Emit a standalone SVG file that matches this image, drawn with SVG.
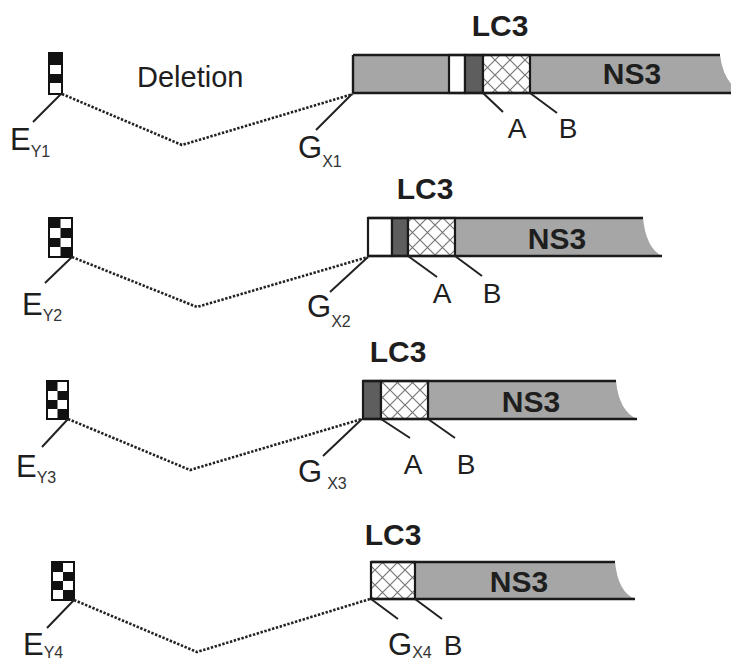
<svg xmlns="http://www.w3.org/2000/svg" width="731" height="662" viewBox="0 0 731 662">
<style>
.t{font-family:"Liberation Sans",Arial,sans-serif;fill:#1e1e1e}
.lab{font-size:31px}
.sub{font-size:16px;fill:#333}
.ab{font-size:28px}
.bold{font-weight:bold;font-size:30px}
.dot{fill:none;stroke:#222;stroke-width:2.6;stroke-dasharray:2.4 1.6}
.ln{stroke:#222;stroke-width:2;fill:none}
.edge{stroke:#1a1a1a;stroke-width:2.4;fill:none}
.seg{stroke:#1a1a1a;stroke-width:2.2}
.gray{fill:#a6a6a6}
.dark{fill:#5e5e5e}
.white{fill:#fff}
.hatch{fill:url(#xh)}
.blk{fill:#111}
</style>
<defs>
<pattern id="xh" patternUnits="userSpaceOnUse" width="15" height="15">
<rect width="15" height="15" fill="#fff"/>
<path d="M0,0 L15,15 M15,0 L0,15" stroke="#777" stroke-width="1.2"/>
</pattern>
</defs>

<!-- Row 1 -->
<g id="row1-exon">
<rect x="49" y="53" width="13" height="41" class="white" stroke="#111" stroke-width="2"/>
<rect x="49" y="53" width="13" height="12" class="blk"/>
<rect x="49" y="74" width="13" height="9" class="blk"/>
<text class="t lab" x="10" y="150">E<tspan class="sub" dy="7">Y1</tspan></text>
</g>
<text id="deletion" class="t" x="137" y="87" font-size="29">Deletion</text>
<g id="row1-bar">
<path class="gray" d="M353,55 L720,55 Q724,86 745,93 L353,93 Z"/>
<rect x="449" y="55" width="16" height="38" class="white seg"/>
<rect x="465" y="55" width="18" height="38" class="dark seg"/>
<rect x="483" y="55" width="47" height="38" class="hatch seg"/>
<path class="edge" d="M353,55 L720,55 M353,93 L731,93 M353,55 L353,93"/>
<text class="t bold" x="500" y="36" text-anchor="middle">LC3</text>
<text class="t bold" x="632" y="84" text-anchor="middle">NS3</text>
<text class="t ab" x="517" y="138" text-anchor="middle">A</text>
<text class="t ab" x="568" y="138" text-anchor="middle">B</text>
<text class="t lab" x="298" y="158">G<tspan class="sub" dy="9">X1</tspan></text>
</g>

<!-- Row 2 -->
<g id="row2-exon">
<rect x="49" y="218" width="23" height="39" class="white" stroke="#111" stroke-width="2"/>
<rect x="49" y="218" width="11.5" height="10" class="blk"/>
<rect x="60.5" y="228" width="11.5" height="10" class="blk"/>
<rect x="49" y="238" width="11.5" height="9" class="blk"/>
<rect x="60.5" y="247" width="11.5" height="10" class="blk"/>
<text class="t lab" x="22" y="315">E<tspan class="sub" dy="6">Y2</tspan></text>
</g>
<g id="row2-bar">
<path class="gray" d="M455,218 L643,218 Q646,248 662,256 L455,256 Z"/>
<rect x="368" y="218" width="24" height="38" class="white seg"/>
<rect x="392" y="218" width="16" height="38" class="dark seg"/>
<rect x="408" y="218" width="47" height="38" class="hatch seg"/>
<path class="edge" d="M368,218 L643,218 M368,256 L662,256"/>
<text class="t bold" x="425" y="199" text-anchor="middle">LC3</text>
<text class="t bold" x="557" y="249" text-anchor="middle">NS3</text>
<text class="t ab" x="442" y="303" text-anchor="middle">A</text>
<text class="t ab" x="492" y="303" text-anchor="middle">B</text>
<text class="t lab" x="307" y="317">G<tspan class="sub" dy="10">X2</tspan></text>
</g>

<!-- Row 3 -->
<g id="row3-exon">
<rect x="47" y="381" width="21" height="38" class="white" stroke="#111" stroke-width="2"/>
<rect x="47" y="381" width="10.5" height="10" class="blk"/>
<rect x="57.5" y="391" width="10.5" height="9" class="blk"/>
<rect x="47" y="400" width="10.5" height="9" class="blk"/>
<rect x="57.5" y="409" width="10.5" height="10" class="blk"/>
<text class="t lab" x="16" y="477">E<tspan class="sub" dy="6">Y3</tspan></text>
</g>
<g id="row3-bar">
<path class="gray" d="M428,381 L616,381 Q619,411 637,419 L428,419 Z"/>
<rect x="363" y="381" width="18" height="38" class="dark seg"/>
<rect x="381" y="381" width="47" height="38" class="hatch seg"/>
<path class="edge" d="M363,381 L616,381 M363,419 L637,419"/>
<text class="t bold" x="398" y="362" text-anchor="middle">LC3</text>
<text class="t bold" x="531" y="412" text-anchor="middle">NS3</text>
<text class="t ab" x="413" y="474" text-anchor="middle">A</text>
<text class="t ab" x="466" y="474" text-anchor="middle">B</text>
<text class="t lab" x="298" y="482">G<tspan class="sub" dx="5" dy="7">X3</tspan></text>
</g>

<!-- Row 4 -->
<g id="row4-exon">
<rect x="52" y="562" width="22" height="38" class="white" stroke="#111" stroke-width="2"/>
<rect x="52" y="562" width="11" height="10" class="blk"/>
<rect x="63" y="572" width="11" height="9" class="blk"/>
<rect x="52" y="581" width="11" height="9" class="blk"/>
<rect x="63" y="590" width="11" height="10" class="blk"/>
<text class="t lab" x="23" y="655">E<tspan class="sub" dy="3">Y4</tspan></text>
</g>
<g id="row4-bar">
<path class="gray" d="M415,562 L615,562 Q618,592 635,599 L415,599 Z"/>
<rect x="371" y="562" width="44" height="37" class="hatch seg"/>
<path class="edge" d="M371,562 L615,562 M371,599 L635,599"/>
<text class="t bold" x="393" y="545" text-anchor="middle">LC3</text>
<text class="t bold" x="519" y="592" text-anchor="middle">NS3</text>
<text class="t ab" x="453" y="655" text-anchor="middle">B</text>
<text class="t lab" x="388" y="655">G<tspan class="sub" dy="3">X4</tspan></text>
</g>

<g id="connectors">
<polyline class="dot" points="62,94 182,145 353,94"/>
<polyline class="dot" points="72,257 197,307 368,257"/>
<polyline class="dot" points="68,419 190,470 362,419"/>
<polyline class="dot" points="74,600 197,652 370,599"/>
<path class="ln" d="M61,94 L33,122 M352,94 L316,130 M483,93 L503,112 M530,93 L557,113"/>
<path class="ln" d="M72,257 L45,283 M368,257 L330,292 M408,256 L437,277 M455,256 L482,276"/>
<path class="ln" d="M68,419 L42,447 M362,419 L323,456 M381,419 L410,438 M428,419 L455,438"/>
<path class="ln" d="M74,600 L47,628 M371,599 L398,619 M415,599 L442,619"/>
</g>
</svg>
